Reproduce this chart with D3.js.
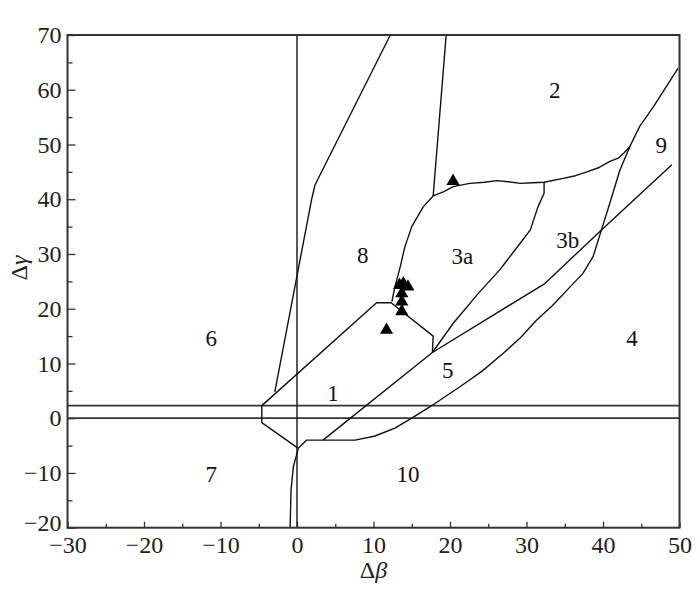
<!DOCTYPE html>
<html>
<head>
<meta charset="utf-8">
<script src="https://cdn.jsdelivr.net/npm/d3@7"></script>
<style>
  body { margin: 0; background: #fff; }
  text { font-family: "Liberation Serif", "Times New Roman", serif; }
</style>
</head>
<body>
<div id="chart"></div>
<script>
/* Δβ - Δγ classification diagram */

// tick values
const xTicks = d3.range(-30, 51, 10);
const yTicks = d3.range(-20, 71, 10);

// straight reference lines
const hLines = [0, 2.3];
const vLines = [0];

// field boundaries (Δβ, Δγ)
const line8 = [[12.2, 70], [2.35, 42.6], [1.9, 39.9], [-2.9, 4.8]];
const line2v = [[19.5, 70], [17.8, 40.6]];
const curve2 = [[12.4, 21.3], [12.8, 24.0], [13.5, 27.7], [14.1, 31.3], [15.0, 35.0], [16.5, 38.6],
  [17.8, 40.6], [19.2, 41.4], [20.4, 42.3], [22.6, 42.9], [24.5, 43.1], [26.1, 43.4], [27.6, 43.2],
  [29.2, 42.9], [30.8, 43.0], [32.3, 43.1], [34.8, 43.8], [36.4, 44.3], [37.9, 45.0], [39.5, 45.8],
  [40.9, 46.9], [42.0, 47.5], [42.7, 48.4], [43.5, 49.6]];
const curve4 = [[0.17, -5.5], [1.27, -4.0], [3.4, -4.0], [7.6, -4.0], [10.2, -3.25], [12.8, -1.8],
  [15.0, 0.0], [17.4, 2.1], [21.3, 5.75], [24.2, 8.6], [27.0, 11.9], [29.2, 14.7], [31.3, 17.9],
  [33.4, 20.6], [35.3, 23.4], [37.4, 26.5], [38.7, 29.5], [39.8, 34.4], [40.9, 39.3], [42.2, 45.3],
  [43.5, 49.6], [44.8, 53.3], [46.6, 56.9], [49.8, 63.9]];
const line5 = [[3.4, -4.0], [17.7, 12.0], [32.4, 24.6], [39.8, 34.4], [49.0, 46.3]];
const line3ab = [[17.7, 12.0], [20.4, 17.3], [23.7, 22.8], [26.5, 27.1], [29.2, 32.0], [30.5, 34.4],
  [31.5, 38.6], [32.3, 41.1], [32.3, 43.1]];
const region1Top = [[-4.6, 2.3], [10.4, 21.1], [12.3, 21.1], [17.8, 15.0], [17.7, 12.0]];
const region1Left = [[-4.6, 2.3], [-4.6, -0.8], [0.17, -5.5]];
const curve7 = [[0.17, -5.5], [-0.48, -8.9], [-0.78, -13.1], [-0.9, -20]];

// samples
const samples = [[20.4, 43.3], [13.4, 24.3], [13.9, 24.6], [14.5, 24.0], [13.7, 22.8],
  [13.7, 21.3], [13.7, 19.5], [11.7, 16.1]];

// field labels
const fieldNames = ["2", "9", "8", "3a", "3b", "6", "4", "1", "5", "7", "10"];
const fieldX = [33.7, 47.6, 8.6, 21.6, 35.4, -11.2, 43.8, 4.7, 19.7, -11.2, 14.5];
const fieldY = [60.0, 49.9, 29.8, 29.6, 32.6, 14.6, 14.6, 4.6, 8.8, -10.2, -10.2];

const width = 700,
      height = 594,
      margin = ({ top: 35, right: 20.5, bottom: 66.3, left: 67.5 });

let svg = d3.select("#chart")
    .append("svg")
    .attr("width", width)
    .attr("height", height);

let x = d3.scaleLinear()
    .domain([-30, 50])
    .range([margin.left, width - margin.right]);

let y = d3.scaleLinear()
    .domain([-20, 70])
    .range([height - margin.bottom, margin.top]);

let line = d3.line()
    .x(d => x(d[0]))
    .y(d => y(d[1]));

// minor ticks
svg.append("g")
    .attr("transform", `translate(0,${y(-20)})`)
    .call(d3.axisBottom(x).tickValues(d3.range(-25, 50, 10)).tickSize(-4).tickFormat(""))
    .call(g => g.select(".domain").remove())
    .call(g => g.selectAll("line").attr("stroke", "#333").attr("stroke-width", 1.3));

svg.append("g")
    .attr("transform", `translate(${x(-30)},0)`)
    .call(d3.axisLeft(y).tickValues(d3.range(-15, 70, 10)).tickSize(-5).tickFormat(""))
    .call(g => g.select(".domain").remove())
    .call(g => g.selectAll("line").attr("stroke", "#333").attr("stroke-width", 1.3));

// major ticks + labels
svg.append("g")
    .attr("transform", `translate(0,${y(-20)})`)
    .call(d3.axisBottom(x).tickValues(xTicks).tickSize(-6).tickPadding(8))
    .call(g => g.select(".domain").remove())
    .call(g => g.selectAll("line").attr("stroke", "#333").attr("stroke-width", 1.3))
    .call(g => g.selectAll("text").attr("font-size", 24).attr("fill", "#222")
        .style("font-family", "Liberation Serif"));

svg.append("g")
    .attr("transform", `translate(${x(-30)},0)`)
    .call(d3.axisLeft(y).tickValues(yTicks).tickSize(-8).tickPadding(6))
    .call(g => g.select(".domain").remove())
    .call(g => g.selectAll("line").attr("stroke", "#333").attr("stroke-width", 1.3))
    .call(g => g.selectAll("text").attr("font-size", 24).attr("fill", "#222")
        .style("font-family", "Liberation Serif")
        .attr("dy", d => d === -20 ? "0.1em" : "0.32em")); // lift -20 clear of the x labels

// reference lines
svg.selectAll(".hline")
    .data(hLines)
    .join("line")
    .attr("class", "hline")
    .attr("x1", x(-30))
    .attr("x2", x(50))
    .attr("y1", d => y(d))
    .attr("y2", d => y(d))
    .attr("stroke", "#333")
    .attr("stroke-width", 1.8);

svg.selectAll(".vline")
    .data(vLines)
    .join("line")
    .attr("class", "vline")
    .attr("x1", d => x(d))
    .attr("x2", d => x(d))
    .attr("y1", y(-20))
    .attr("y2", y(70))
    .attr("stroke", "#222")
    .attr("stroke-width", 1.5);

// boundaries
const boundaries = [line8, line2v, curve2, curve4, line5, line3ab, region1Top, region1Left, curve7];

svg.selectAll(".boundary")
    .data(boundaries)
    .join("path")
    .attr("class", "boundary")
    .attr("d", line)
    .attr("fill", "none")
    .attr("stroke", "#111")
    .attr("stroke-width", 1.4)
    .attr("stroke-linejoin", "round");

// frame
svg.append("rect")
    .attr("x", x(-30))
    .attr("y", y(70))
    .attr("width", x(50) - x(-30))
    .attr("height", y(-20) - y(70))
    .attr("fill", "none")
    .attr("stroke", "#333")
    .attr("stroke-width", 2);

// sample triangles
svg.selectAll(".pt")
    .data(samples)
    .join("path")
    .attr("class", "pt")
    .attr("d", d3.symbol(d3.symbolTriangle, 75))
    .attr("transform", d => `translate(${x(d[0])},${y(d[1])})`)
    .attr("fill", "#000");

// field labels
svg.selectAll(".field")
    .data(fieldNames)
    .join("text")
    .attr("class", "field")
    .attr("x", (d, i) => x(fieldX[i]))
    .attr("y", (d, i) => y(fieldY[i]))
    .attr("dy", "0.35em")
    .attr("text-anchor", "middle")
    .attr("font-size", 23)
    .attr("fill", "#111")
    .text(d => d);

// axis titles
let xt = svg.append("text")
    .attr("x", (x(-30) + x(50)) / 2)
    .attr("y", 578)
    .attr("text-anchor", "middle")
    .attr("font-size", 24)
    .attr("fill", "#222");
xt.append("tspan").text("Δ");
xt.append("tspan").attr("font-style", "italic").text("β");

let yt = svg.append("text")
    .attr("transform", "translate(27,268) rotate(-90)")
    .attr("text-anchor", "middle")
    .attr("font-size", 24)
    .attr("fill", "#222");
yt.append("tspan").text("Δ");
yt.append("tspan").attr("font-style", "italic").text("γ");
</script>
</body>
</html>
